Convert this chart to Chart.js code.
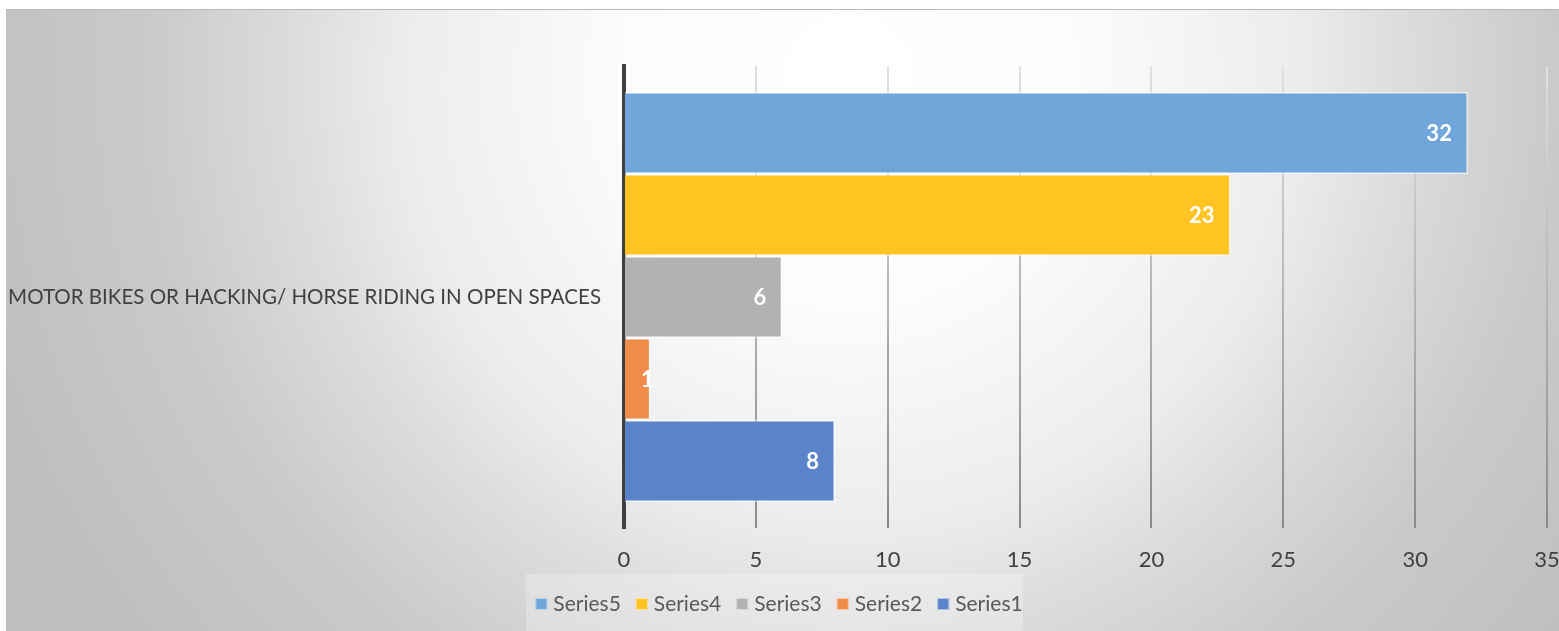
<!DOCTYPE html>
<html>
<head>
<meta charset="utf-8">
<script src="https://cdn.jsdelivr.net/npm/chart.js@4.4.1/dist/chart.umd.min.js"></script>
<style>
  html, body { margin: 0; padding: 0; background: #fff; }
  #wrap { position: relative; width: 1559px; height: 631px; }
</style>
</head>
<body>
<div id="wrap"><canvas id="chart" width="1559" height="631"></canvas></div>
<script>
// Datos del gráfico
const categorias = ["MOTOR BIKES OR HACKING/ HORSE RIDING IN OPEN SPACES"];
const series     = ["Series5", "Series4", "Series3", "Series2", "Series1"];
const valores    = [[32], [23], [6], [1], [8]];
const colores    = ["#70a6da", "#ffc421", "#b2b2b2", "#f08c4a", "#5b83c9"];
const ticksX     = [0, 5, 10, 15, 20, 25, 30, 35];

const FUENTE = "Lato, 'Open Sans', sans-serif";

// Fondo con degradado radial + línea superior
const fondoPlugin = {
  id: "fondo",
  beforeDraw(chart) {
    const ctx = chart.ctx;
    ctx.save();
    const g = ctx.createRadialGradient(850, 80, 0, 850, 80, 900);
    g.addColorStop(0,    "#ffffff");
    g.addColorStop(0.25, "#fcfcfc");
    g.addColorStop(0.5,  "#ececec");
    g.addColorStop(0.61, "#dddddd");
    g.addColorStop(0.78, "#cacaca");
    g.addColorStop(1,    "#bfbfbf");
    ctx.fillStyle = g;
    ctx.fillRect(6, 9, chart.width - 6, chart.height - 9);
    ctx.fillStyle = "#b8b8b8";
    ctx.fillRect(6, 9, chart.width - 6, 1);
    ctx.restore();
  }
};

// Etiquetas de datos (blancas, en negrita, al final de la barra)
const etiquetasPlugin = {
  id: "etiquetas",
  afterDatasetsDraw(chart) {
    const ctx = chart.ctx;
    ctx.save();
    ctx.font = "bold 22px " + FUENTE;
    ctx.fillStyle = "#ffffff";
    ctx.textAlign = "right";
    ctx.textBaseline = "middle";
    chart.data.datasets.forEach((ds, i) => {
      chart.getDatasetMeta(i).data.forEach((bar, j) => {
        const txt = String(ds.data[j]);
        const w = ctx.measureText(txt).width;
        const x = Math.max(bar.x - 16, bar.base + w + 16);
        ctx.fillText(txt, x, bar.y + 1);
      });
    });
    ctx.restore();
  }
};

// Leyenda dibujada a mano, abajo y centrada
const leyendaPlugin = {
  id: "leyenda",
  afterDraw(chart) {
    const ctx = chart.ctx;
    ctx.save();
    ctx.fillStyle = "rgba(255,255,255,0.25)";
    ctx.fillRect(526, 574, 497, 57);
    ctx.font = "21px " + FUENTE;
    ctx.textBaseline = "middle";
    const items = chart.data.datasets.map(ds => ({
      label: ds.label, color: ds.backgroundColor, w: ctx.measureText(ds.label).width
    }));
    const total = items.reduce((a, it) => a + 12 + 6 + it.w, 0) + 15 * (items.length - 1);
    let x = 779 - total / 2;
    const y = 604;
    items.forEach(it => {
      ctx.fillStyle = it.color;
      ctx.fillRect(x, y - 6, 12, 12);
      ctx.strokeStyle = "rgba(255,255,255,0.5)";
      ctx.lineWidth = 1;
      ctx.strokeRect(x + 0.5, y - 5.5, 11, 11);
      ctx.fillStyle = "#595959";
      ctx.textAlign = "left";
      ctx.fillText(it.label, x + 18, y);
      x += 12 + 6 + it.w + 15;
    });
    ctx.restore();
  }
};

const canvas = document.getElementById("chart");
const ctx2 = canvas.getContext("2d");
const gradGrid = ctx2.createLinearGradient(0, 66, 0, 528);
gradGrid.addColorStop(0, "#e0e0e0");
gradGrid.addColorStop(1, "#8a8a8a");

new Chart(canvas, {
  type: "bar",
  data: {
    labels: categorias,
    datasets: series.map((s, i) => ({
      label: s,
      data: valores[i],
      backgroundColor: colores[i],
      borderColor: "rgba(255,255,255,0.55)",
      borderWidth: 1.5,
      categoryPercentage: 0.887,
      barPercentage: 1
    }))
  },
  options: {
    indexAxis: "y",
    responsive: false,
    animation: false,
    layout: { padding: { top: 66, right: 12, left: 0, bottom: 0 } },
    plugins: {
      legend: { display: false },
      tooltip: { enabled: false }
    },
    scales: {
      x: {
        min: 0,
        max: 35,
        afterBuildTicks: (axis) => { axis.ticks = ticksX.map(v => ({ value: v })); },
        afterFit: (axis) => {
          axis.height = 103;
          axis.paddingLeft = 0;
          axis.paddingRight = 0;
        },
        grid: { color: gradGrid, lineWidth: 2, drawTicks: false },
        border: { display: false },
        ticks: {
          padding: 19,
          color: "#404040",
          font: { family: FUENTE, size: 22 }
        }
      },
      y: {
        afterFit: (axis) => { axis.width = 624; },
        grid: { display: false, drawTicks: false },
        border: { display: true, color: "#404040", width: 4 },
        ticks: {
          padding: 23,
          color: "#404040",
          font: { family: FUENTE, size: 20.5 }
        }
      }
    }
  },
  plugins: [fondoPlugin, etiquetasPlugin, leyendaPlugin]
});
</script>
</body>
</html>
